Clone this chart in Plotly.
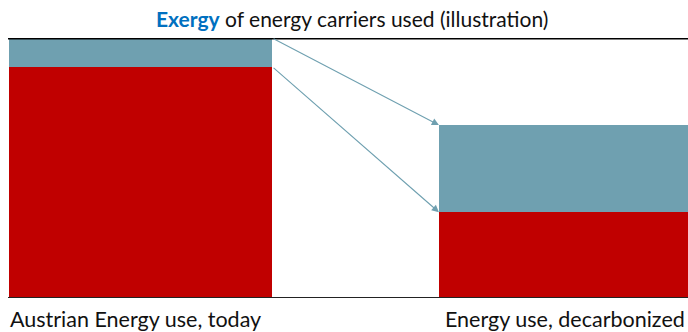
import plotly.graph_objects as go

# ---- data ----
categories = ["Austrian Energy use, today", "Energy use, decarbonized"]
red_values = [89, 33]      # lower (red) block
teal_values = [11, 33.5]   # upper (teal) block
title_lead = "Exergy"
title_rest = " of energy carriers used (illustration)"

RED = "#C00000"
TEAL = "#6FA0B0"
FONT = "Lato, Open Sans, sans-serif"

x_idx = [0, 1]
fig = go.Figure()
fig.add_trace(go.Bar(x=x_idx, y=red_values, marker=dict(color=RED, line=dict(width=0)),
                     name="red", hoverinfo="y"))
fig.add_trace(go.Bar(x=x_idx, y=teal_values, marker=dict(color=TEAL, line=dict(width=0)),
                     name="teal", hoverinfo="y"))

bargap = 0.388
half = (1 - bargap) / 2
totals = [r + t for r, t in zip(red_values, teal_values)]

# arrows from left bar to right bar
arrow_pairs = [(totals[0], totals[1]), (red_values[0], red_values[1])]
for y_from, y_to in arrow_pairs:
    fig.add_annotation(x=1 - half, y=y_to, ax=0 + half, ay=y_from,
                       xref="x", yref="y", axref="x", ayref="y",
                       showarrow=True, arrowhead=2, arrowsize=1.3, arrowwidth=1.1,
                       arrowcolor=TEAL, text="")

# top and bottom black lines
fig.add_shape(type="line", xref="paper", yref="y", x0=8/688, x1=1, y0=totals[0], y1=totals[0],
              line=dict(color="black", width=3))
fig.add_shape(type="line", xref="paper", yref="y", x0=8/688, x1=1, y0=0, y1=0,
              line=dict(color="#222222", width=2))

# category labels
label_pos = [(8/688, "left", 0), (1, "right", -1)]
for lab, (lx, anchor, shift) in zip(categories, label_pos):
    fig.add_annotation(text=lab, x=lx, y=0, xref="paper", yref="paper", xanchor=anchor,
                       yanchor="top", yshift=-6, xshift=shift, showarrow=False,
                       font=dict(family=FONT, size=21.5, color="#111111"))

# title
fig.add_annotation(text=f"<span style='color:#0070C0'><b>{title_lead}</b></span>{title_rest}",
                   x=352/688, y=1, xref="paper", yref="paper", xanchor="center", yanchor="bottom",
                   yshift=5, showarrow=False, font=dict(family=FONT, size=21, color="#111111"))

px_per_unit = 430
left = -140.5 / px_per_unit
fig.update_layout(
    width=688, height=332,
    margin=dict(l=0, r=0, t=38, b=34),
    barmode="stack", bargap=bargap,
    showlegend=False,
    plot_bgcolor="white", paper_bgcolor="white",
    xaxis=dict(type="linear", range=[left, left + 688 / px_per_unit], showticklabels=False,
               showgrid=False, zeroline=False, showline=False, ticks=""),
    yaxis=dict(range=[0, totals[0]], showticklabels=False, showgrid=False,
               zeroline=False, showline=False, ticks=""),
)

fig.write_html("out.html")
